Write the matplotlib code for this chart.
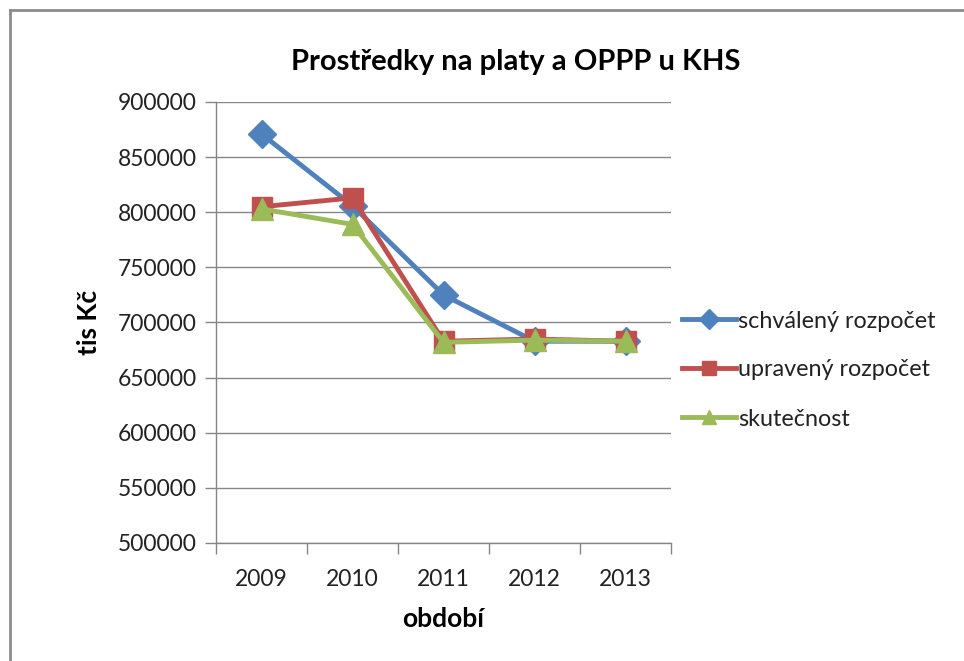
import matplotlib
matplotlib.use("Agg")
import matplotlib.pyplot as plt
from matplotlib.lines import Line2D

plt.rcParams['font.family'] = ['Lato', 'DejaVu Sans']

# data
years = ['2009', '2010', '2011', '2012', '2013']
schvaleny = [871000, 806000, 725000, 683000, 683000]
upraveny = [805000, 813000, 683000, 685000, 683000]
skutecnost = [803000, 789000, 682000, 684000, 683000]
yticks = [500000, 550000, 600000, 650000, 700000, 750000, 800000, 850000, 900000]

W, H = 964, 661
fig = plt.figure(figsize=(W / 100, H / 100), dpi=100)
ax = fig.add_axes([216 / W, 1 - 543 / H, (671 - 216) / W, (543 - 102) / H])

x = list(range(len(years)))
ax.plot(x, schvaleny, color='#4F81BD', lw=3.5, marker='D', ms=14,
        label='schválený rozpočet', zorder=3)
ax.plot(x, upraveny, color='#C0504D', lw=3.5, marker='s', ms=15,
        label='upravený rozpočet', zorder=4)
ax.plot(x, skutecnost, color='#9BBB59', lw=3.5, marker='^', ms=16,
        label='skutečnost', zorder=5)

ax.set_xlim(-0.5, len(years) - 0.5)
ax.set_ylim(500000, 900000)
ax.set_yticks(yticks)
ax.set_yticklabels([str(v) for v in yticks])
ax.set_xticks(x)
ax.set_xticklabels(years)
ax.set_xticks([i - 0.5 for i in range(len(years) + 1)], minor=True)
ax.tick_params(axis='x', which='major', length=0, pad=19, labelsize=16.5)
ax.tick_params(axis='x', which='minor', length=8, color='#868686', width=1)
ax.tick_params(axis='y', length=8, color='#868686', width=1, labelsize=16.5, pad=6)
for lab in ax.get_xticklabels() + ax.get_yticklabels():
    lab.set_color('#222222')

ax.grid(axis='y', color='#868686', lw=1)
ax.set_axisbelow(True)
for s in ['top', 'right']:
    ax.spines[s].set_visible(False)
for s in ['left', 'bottom']:
    ax.spines[s].set_color('#868686')
    ax.spines[s].set_linewidth(1)

ax.set_ylabel('tis Kč', fontsize=19, fontweight='bold', labelpad=12)
ax.set_xlabel('období', fontsize=19, fontweight='bold', labelpad=12)
fig.text(516 / W, 1 - 62 / H, 'Prostředky na platy a OPPP u KHS', fontsize=21,
         fontweight='bold', ha='center', va='center')

leg = ax.legend(loc='center left', bbox_to_anchor=(1.004, (543 - 370) / 441),
                frameon=False, fontsize=16.8, handlelength=2.3,
                handletextpad=0.1, labelspacing=1.2, borderaxespad=0)
for t in leg.get_texts():
    t.set_color('#222222')
for h in leg.legend_handles:
    h.set_markersize(10)

# chart frame (only left and top edges visible in the reference)
fig.add_artist(Line2D([10 / W, 10 / W], [0, 1 - 10 / H], color='#8c8c8c', lw=2,
                      transform=fig.transFigure))
fig.add_artist(Line2D([10 / W, 1], [1 - 10 / H, 1 - 10 / H], color='#8c8c8c', lw=2,
                      transform=fig.transFigure))

fig.savefig('out.png', dpi=100)
